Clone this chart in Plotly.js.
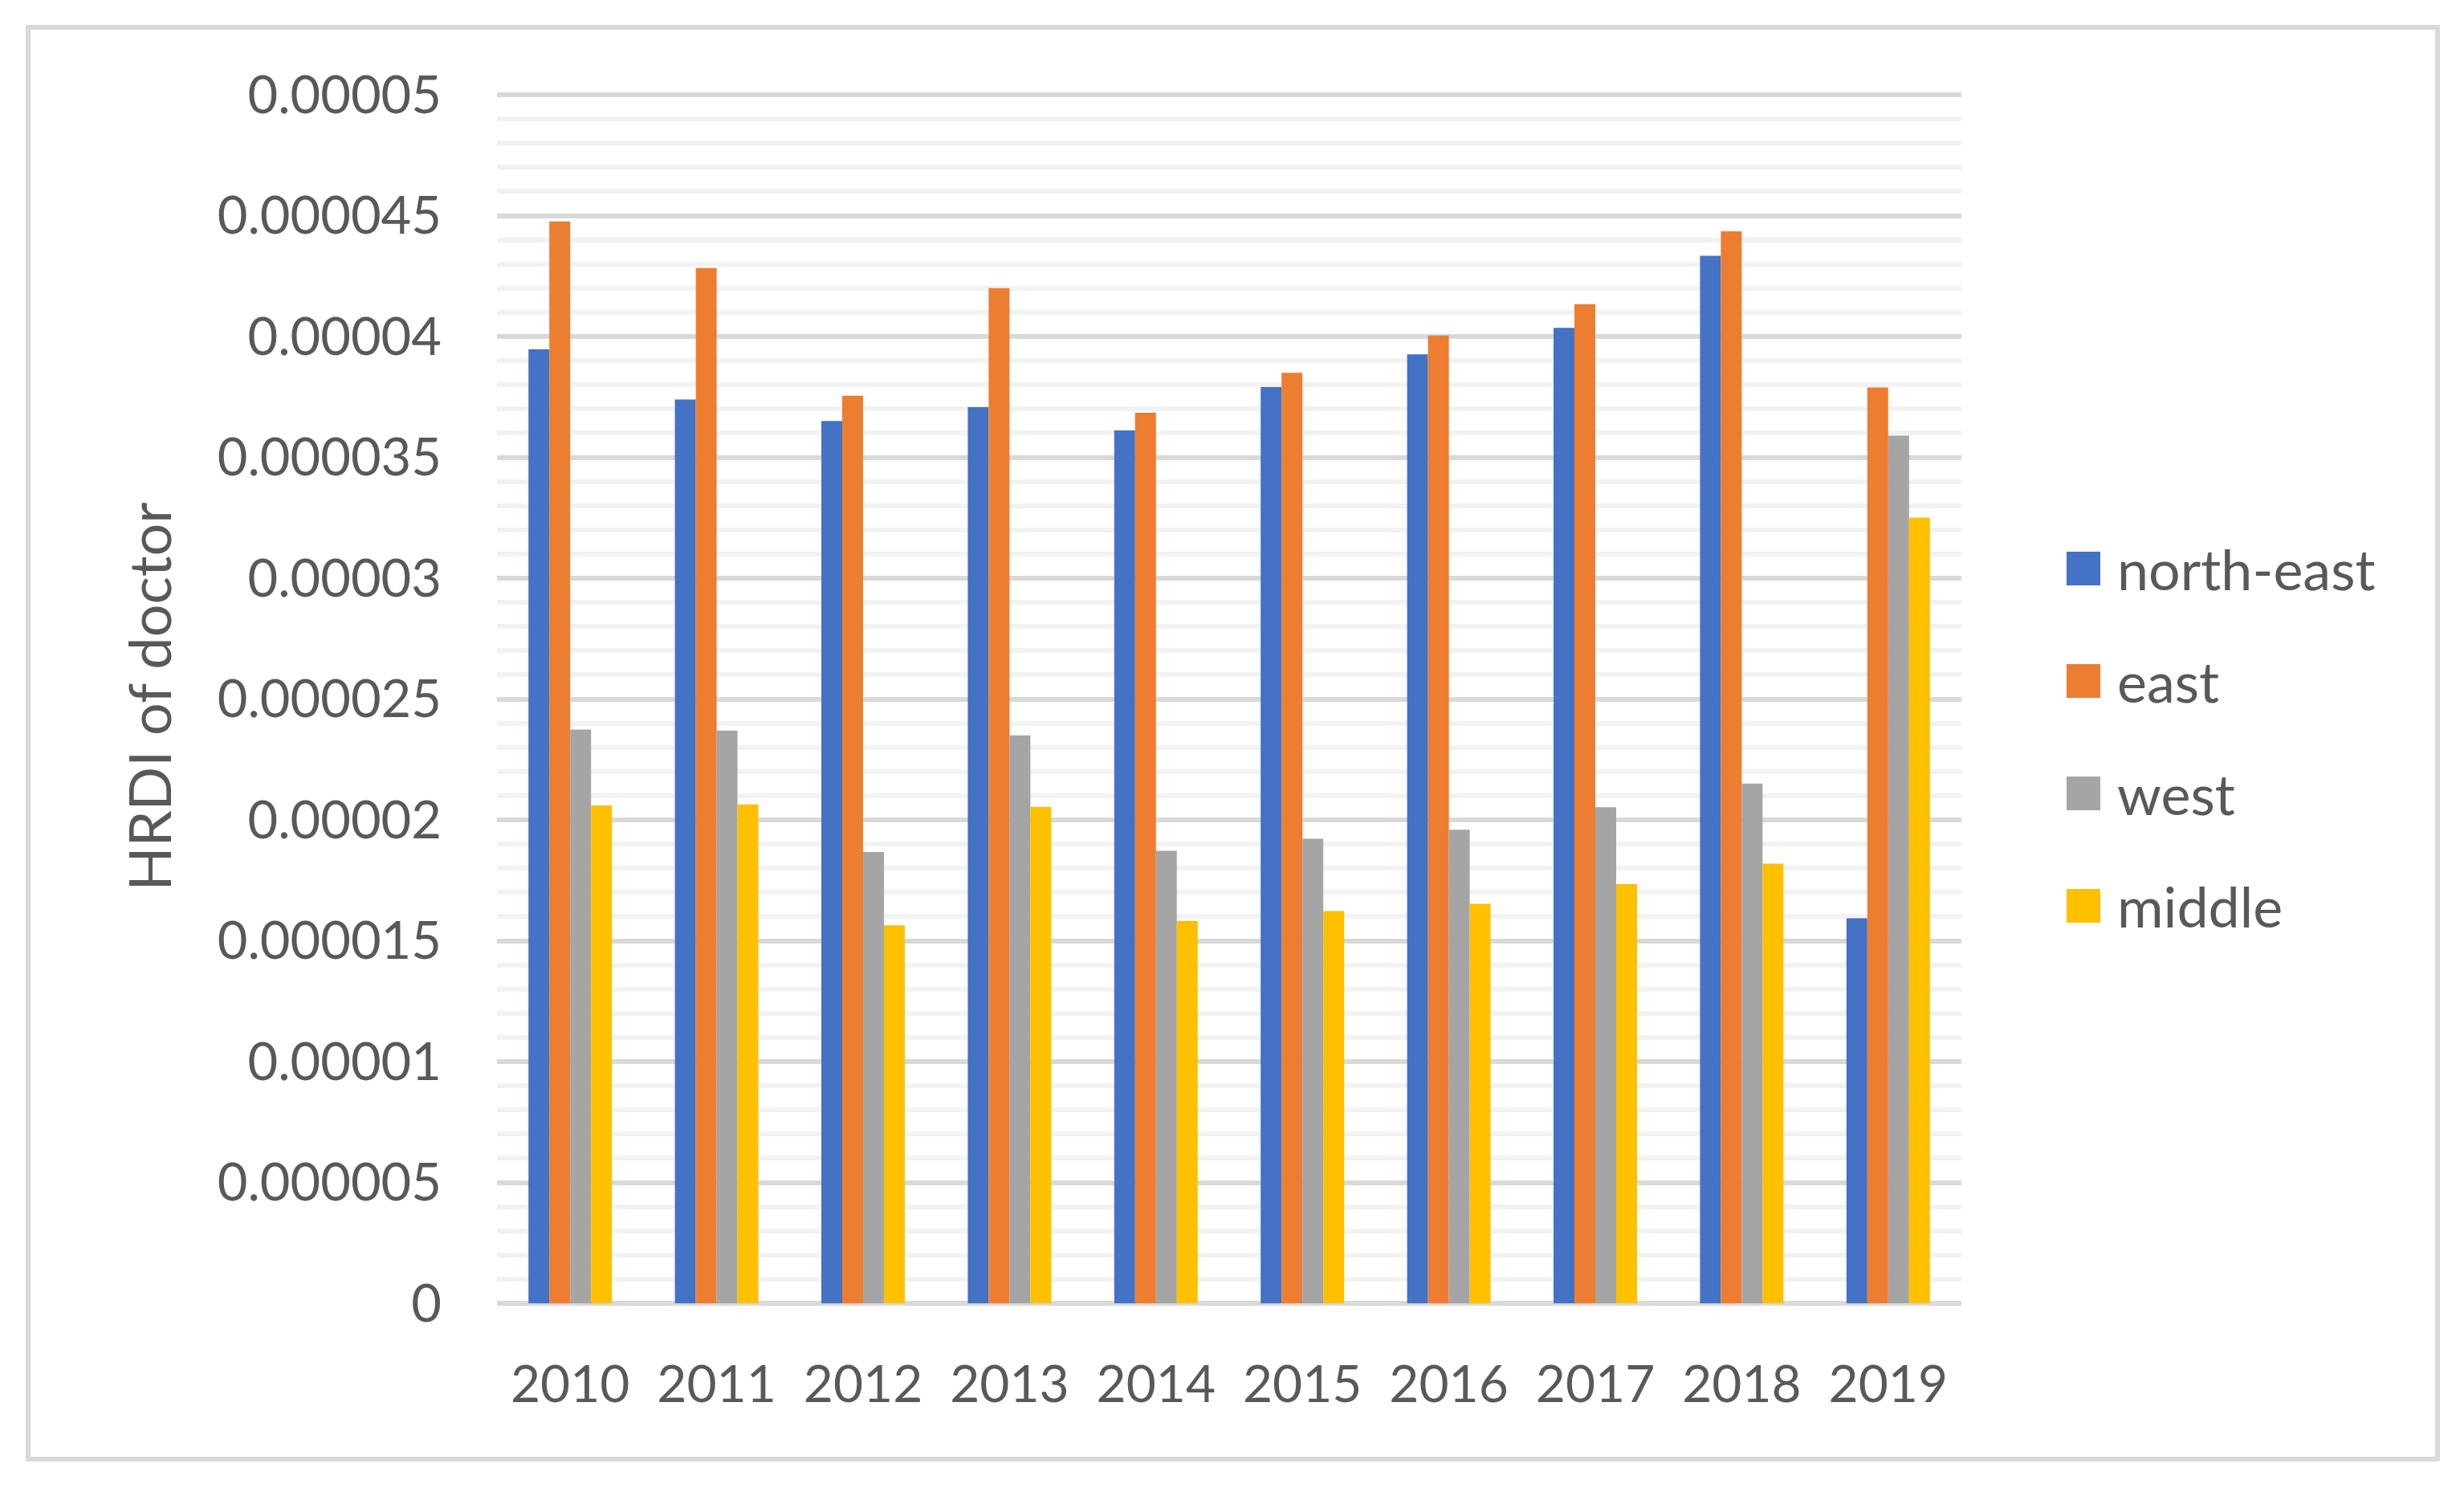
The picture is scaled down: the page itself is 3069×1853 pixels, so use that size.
<!DOCTYPE html>
<html>
<head>
<meta charset="utf-8">
<script src="https://cdn.plot.ly/plotly-3.0.1.min.js"></script>
<style>
  html, body { margin: 0; padding: 0; background: #ffffff; }
  #chart { width: 3069px; height: 1853px; }
</style>
</head>
<body>
<div id="chart"></div>
<script>
// ---- data ----
const years = ['2010', '2011', '2012', '2013', '2014', '2015', '2016', '2017', '2018', '2019'];
const seriesNames = ['north-east', 'east', 'west', 'middle'];
const northEast = [3.947e-5, 3.739e-5, 3.650e-5, 3.708e-5, 3.611e-5, 3.791e-5, 3.926e-5, 4.036e-5, 4.334e-5, 1.593e-5];
const east      = [4.476e-5, 4.283e-5, 3.755e-5, 4.200e-5, 3.684e-5, 3.850e-5, 4.004e-5, 4.134e-5, 4.435e-5, 3.789e-5];
const west      = [2.374e-5, 2.370e-5, 1.867e-5, 2.350e-5, 1.872e-5, 1.922e-5, 1.959e-5, 2.052e-5, 2.150e-5, 3.590e-5];
const middle    = [2.060e-5, 2.064e-5, 1.564e-5, 2.054e-5, 1.582e-5, 1.623e-5, 1.653e-5, 1.734e-5, 1.819e-5, 3.251e-5];
const yTickVals = [0, 0.000005, 0.00001, 0.000015, 0.00002, 0.000025, 0.00003, 0.000035, 0.00004, 0.000045, 0.00005];
const yTickText = ['0', '0.000005', '0.00001', '0.000015', '0.00002', '0.000025', '0.00003', '0.000035', '0.00004', '0.000045', '0.00005'];
const yTitle = 'HRDI of doctor';

// ---- styling ----
const colors = ['#4472C4', '#ED7D31', '#A5A5A5', '#FFC000'];
const seriesValues = [northEast, east, west, middle];
const FONT = 'Lato, "Open Sans", sans-serif';
const TEXT = '#595959';

const W = 3069, H = 1853;
// plot area: a little headroom above the top gridline so it is not clipped
const L = 619, R = 2443, T = 112, B = 1623;
const pw = R - L, ph = B - T;
const yMax = 0.00005 * (B - T) / (B - 118);

const traces = seriesNames.map((name, i) => ({
  type: 'bar',
  name: name,
  x: years,
  y: seriesValues[i],
  legendgroup: 'g' + i,
  marker: { color: colors[i], line: { width: 0 } },
  hoverinfo: 'x+y+name'
}));

const layout = {
  width: W,
  height: H,
  margin: { l: L, r: W - R, t: T, b: H - B, pad: 0 },
  paper_bgcolor: '#ffffff',
  plot_bgcolor: '#ffffff',
  barmode: 'group',
  bargap: 0.43,
  bargroupgap: 0,
  showlegend: true,
  font: { family: FONT, color: TEXT },
  xaxis: {
    type: 'category',
    showgrid: false,
    showline: false,
    zeroline: false,
    ticks: '',
    tickfont: { family: FONT, size: 64, color: TEXT },
    ticklabelstandoff: 58
  },
  yaxis: {
    range: [0, yMax],
    tickmode: 'array',
    tickvals: yTickVals,
    ticktext: yTickText,
    showgrid: true,
    gridcolor: '#d9d9d9',
    gridwidth: 6,
    zeroline: true,
    zerolinecolor: '#d9d9d9',
    zerolinewidth: 6,
    showline: false,
    ticks: '',
    tickfont: { family: FONT, size: 65, color: TEXT },
    ticklabelstandoff: 68,
    minor: {
      tickmode: 'linear',
      tick0: 0,
      dtick: 0.000001,
      showgrid: true,
      gridcolor: '#f2f2f2',
      gridwidth: 6,
      ticks: ''
    },
    title: {
      text: yTitle,
      font: { family: FONT, size: 72, color: TEXT },
      standoff: 33
    },
    automargin: false
  },
  legend: {
    orientation: 'v',
    x: (2567 - L) / pw,
    xanchor: 'left',
    y: (B - 918) / ph,
    yanchor: 'middle',
    itemwidth: 60,
    font: { family: FONT, size: 70, color: TEXT },
    tracegroupgap: 46,
    bgcolor: 'rgba(0,0,0,0)',
    borderwidth: 0
  },
  shapes: [{
    type: 'rect',
    xref: 'paper', yref: 'paper',
    x0: (35 - L) / pw, x1: (3036 - L) / pw,
    y0: (B - 1817) / ph, y1: (B - 34) / ph,
    line: { color: '#d9d9d9', width: 6 },
    fillcolor: 'rgba(0,0,0,0)',
    layer: 'below'
  }]
};

Plotly.newPlot('chart', traces, layout, { displayModeBar: false, staticPlot: true }).then(gd => {
  // enlarge legend swatches to match the Excel-style square keys
  gd.querySelectorAll('.legend .traces').forEach(tr => {
    const txt = tr.querySelector('text.legendtext');
    const tx = txt ? parseFloat(txt.getAttribute('x')) : 70;
    tr.querySelectorAll('.legendpoints path').forEach(p => {
      p.setAttribute('transform', 'translate(' + (tx - 42) + ',0) scale(3.5)');
    });
  });
});
</script>
</body>
</html>
